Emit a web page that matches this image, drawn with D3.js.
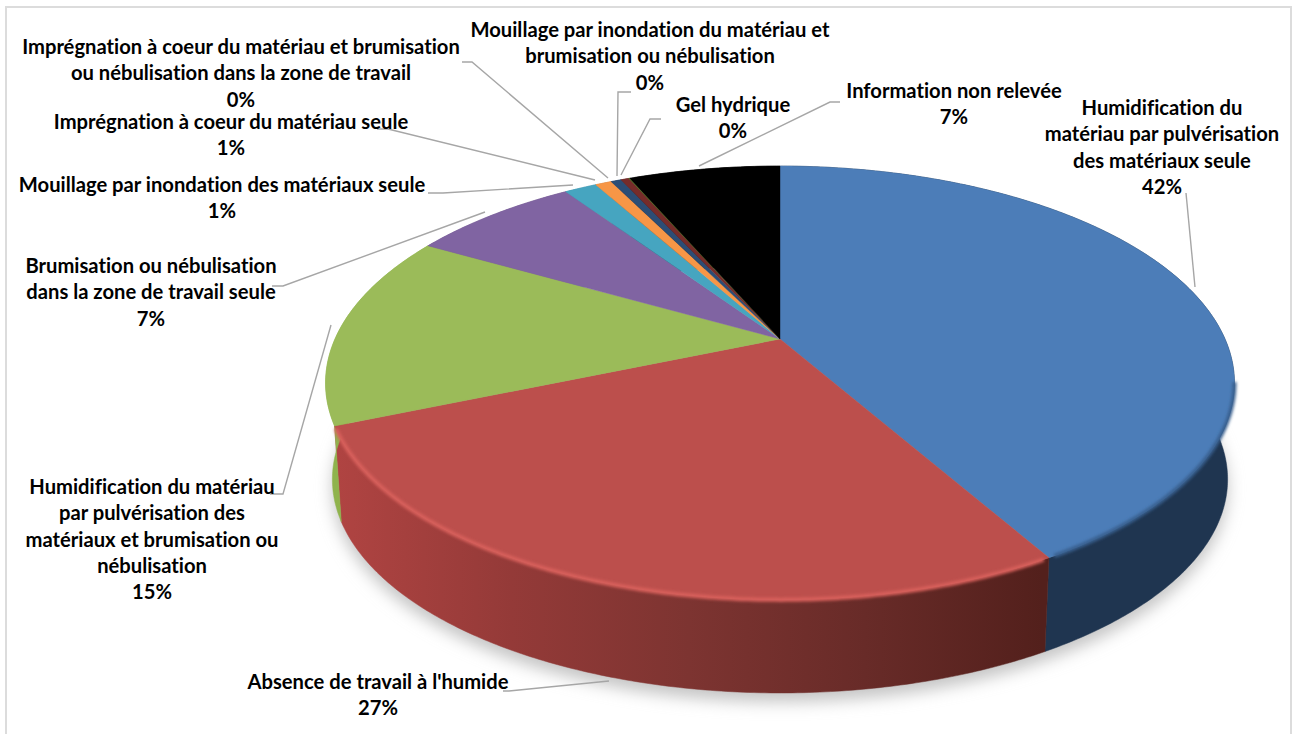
<!DOCTYPE html>
<html><head><meta charset="utf-8">
<script src="https://cdn.jsdelivr.net/npm/d3@7/dist/d3.min.js"></script>
<style>html,body{margin:0;padding:0;background:#fff}svg{display:block}</style>
</head><body><script>
const categories = [
 ["Humidification du","matériau par pulvérisation","des matériaux seule"],
 ["Absence de travail à l'humide"],
 ["Humidification du matériau","par pulvérisation des","matériaux et brumisation ou","nébulisation"],
 ["Brumisation ou nébulisation","dans la zone de travail seule"],
 ["Mouillage par inondation des matériaux seule"],
 ["Imprégnation à coeur du matériau seule"],
 ["Imprégnation à coeur du matériau et brumisation","ou nébulisation dans la zone de travail"],
 ["Mouillage par inondation du matériau et","brumisation ou nébulisation"],
 ["Gel hydrique"],
 ["Information non relevée"]
];
const values = [41.7,27,14.5,7.3,1.4,0.7,0.45,0.35,0.05,6.55];
const percents = ["42%","27%","15%","7%","1%","1%","0%","0%","0%","7%"];
const colors = ["#4c7db8","#bc4f4c","#9bbb59","#8064a2","#46a5c0","#f79646","#2c4d75","#772c2a","#5f7530","#000000"];
const wallColors = ["#1f3550","#7d3431","#8fb34c","#6b5388","#3a8ba3","#c97a38","#223c5c","#5c2220","#4a5c26","#000000"];
const redWallStops = [[0,"#b04442"],[0.25,"#943a38"],[0.5,"#7d3431"],[0.75,"#682b28"],[1,"#53201c"]];
// label layout: centre x, y of the first line centre
const labelAt = [[1162,108],[378,682],[152,487],[151,266],[222,185],[231,122],[241,47],[650,30],[733,105],[954,91]];
const leaders = [
 [[1186,193],[1195,287]],
 [[503,691],[509,691],[609,681]],
 [[270,494],[283,494],[331,325]],
 [[272,286],[283,286],[485,212]],
 [[428,193],[443,193],[573,185]],
 [[377,129],[388,129],[595,180]],
 [[462,62],[472,62],[608,178]],
 [[631,92],[618,92],[617,176]],
 [[661,119],[650,119],[621,175]],
 [[840,102],[830,102],[699,166]]
];
const W=1292,H=734, cx=780, cy=339, rx=445, ry=208, k=-0.2027, wallScale=0.985, wallDrop=97;

const svg=d3.select("body").append("svg").attr("width",W).attr("height",H).attr("viewBox",`0 0 ${W} ${H}`);
const defs=svg.append("defs");
const blur=(id,s)=>defs.append("filter").attr("id",id).attr("x","-20%").attr("y","-20%").attr("width","140%").attr("height","140%")
  .append("feGaussianBlur").attr("stdDeviation",s);
blur("shadow",8); blur("soft",1.7);

svg.append("rect").attr("x",6).attr("y",7).attr("width",1285).attr("height",735).attr("fill","#fff").attr("stroke","#dcdcdc").attr("stroke-width",2);

const arcs=d3.pie().sort(null).value(d=>d)(values);
// angle (clockwise from 12 o'clock) to the tilted top surface
const proj=a=>{const u=Math.sin(a),v=-Math.cos(a),w=1+k*v;return [cx+rx*u/w,cy+ry*v/w];};
const lower=p=>[cx+(p[0]-cx)*wallScale,cy+(p[1]-cy)*wallScale+wallDrop];
const rim=(a0,a1)=>{const n=Math.max(2,Math.ceil((a1-a0)/0.01));return d3.range(n+1).map(i=>proj(a0+(a1-a0)*i/n));};
const line=d3.line();

// soft ground shadow
const whole=rim(0,2*Math.PI);
svg.append("path").attr("d",line(whole.map(lower).map(p=>[p[0],p[1]+9]))+"Z").attr("fill","#c4c4c4").attr("filter","url(#shadow)");

// walls
const redGrad=defs.append("linearGradient").attr("id","redWall").attr("gradientUnits","userSpaceOnUse").attr("x1",335).attr("x2",1042).attr("y1",0).attr("y2",0);
redWallStops.forEach(s=>redGrad.append("stop").attr("offset",s[0]).attr("stop-color",s[1]));
arcs.forEach((d,i)=>{
  const top=rim(d.startAngle,d.endAngle);
  const fill=i==1?"url(#redWall)":wallColors[i];
  svg.append("path").attr("d",line(top.concat(top.map(lower).reverse()))+"Z")
    .attr("fill",fill).attr("stroke",fill).attr("stroke-width",.5);
});
// top surfaces
arcs.forEach((d,i)=>{
  svg.append("path").attr("d",line([[cx,cy]].concat(rim(d.startAngle,d.endAngle)))+"Z").attr("fill",colors[i]).attr("stroke",colors[i]).attr("stroke-width",.4);
});
// bevel along the rim
svg.append("path").attr("d",line(rim(arcs[1].startAngle+0.012,arcs[1].endAngle-0.012))).attr("fill","none")
  .attr("stroke","#d9605c").attr("stroke-width",4).attr("filter","url(#soft)");
svg.append("path").attr("d",line(rim(1.77,arcs[0].endAngle-0.012))).attr("fill","none")
  .attr("stroke","#375f8e").attr("stroke-width",4).attr("filter","url(#soft)");

// leader lines
leaders.forEach(l=>svg.append("path").attr("d",line(l)).attr("fill","none").attr("stroke","#a6a6a6").attr("stroke-width",1.4));

// labels
const step=26.3;
categories.forEach((lines,i)=>{
  lines.concat(percents[i]).forEach((t,j)=>{
    svg.append("text").attr("x",labelAt[i][0]).attr("y",labelAt[i][1]+j*step).attr("dy","0.35em")
      .attr("text-anchor","middle").attr("font-family","Lato, 'Open Sans', sans-serif").attr("font-weight",700)
      .attr("font-size",20.2).style("font-variant-ligatures","none").attr("fill","#000").text(t);
  });
});
</script></body></html>
